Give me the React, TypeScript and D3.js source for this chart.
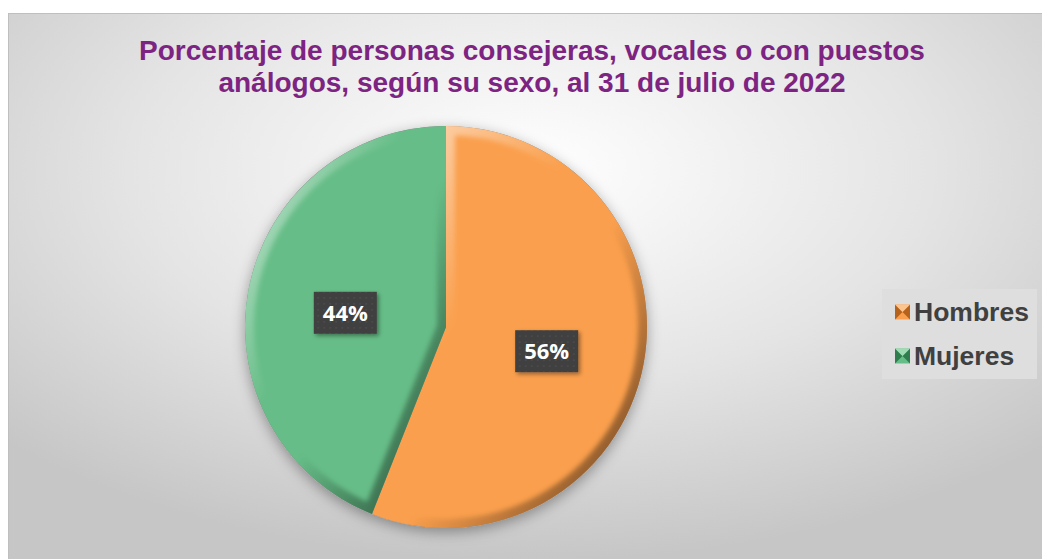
import { useMemo } from 'react'
import * as d3 from 'd3'

const categories = ['Hombres', 'Mujeres']
const values = [56, 44]
const sliceColors = ['#fa9f4d', '#66bd87']
const markerDark = ['#b4621c', '#2f7d4d']
const markerLight = ['#fcc48f', '#9fdcb4']
const titleLines = [
  'Porcentaje de personas consejeras, vocales o con puestos',
  'análogos, según su sexo, al 31 de julio de 2022',
]

const W = 1042
const H = 559

const App = () => {
  const cx = 446
  const cy = 327
  const r = 201

  const arcs = useMemo(
    () =>
      d3
        .pie<number>()
        .sort(null)
        .startAngle(0)
        .endAngle(2 * Math.PI)(values),
    []
  )

  const arc = d3.arc<d3.PieArcDatum<number>>().innerRadius(0).outerRadius(r)
  const labelArc = d3
    .arc<d3.PieArcDatum<number>>()
    .innerRadius(0)
    .outerRadius(r * 1.02)

  const total = d3.sum(values)

  return (
    <svg
      width={W}
      height={H}
      viewBox={`0 0 ${W} ${H}`}
      style={{ position: 'fixed', left: 0, top: 0, background: '#fff' }}
    >
      <defs>
        <radialGradient id="bg" cx="50%" cy="28%" r="70%">
          <stop offset="0" stopColor="#ffffff" />
          <stop offset="0.55" stopColor="#e4e4e4" />
          <stop offset="1" stopColor="#c6c6c6" />
        </radialGradient>
        <linearGradient id="bevel" x1="0" y1="0" x2="1" y2="1">
          <stop offset="0" stopColor="#ffffff" stopOpacity="0.7" />
          <stop offset="0.4" stopColor="#ffffff" stopOpacity="0" />
          <stop offset="0.56" stopColor="#000000" stopOpacity="0" />
          <stop offset="1" stopColor="#000000" stopOpacity="0.65" />
        </linearGradient>
        <filter id="soft" x="-10%" y="-10%" width="120%" height="120%">
          <feGaussianBlur stdDeviation="2.5" />
        </filter>
        <filter id="pieShadow" x="-20%" y="-20%" width="140%" height="140%">
          <feDropShadow dx="0" dy="4" stdDeviation="7" floodColor="#000" floodOpacity="0.35" />
        </filter>
        <filter id="boxShadow" x="-30%" y="-30%" width="160%" height="160%">
          <feDropShadow dx="2" dy="2" stdDeviation="2" floodColor="#000" floodOpacity="0.4" />
        </filter>
        <pattern id="dots" width="6" height="6" patternUnits="userSpaceOnUse">
          <rect width="6" height="6" fill="#3f3f3f" />
          <circle cx="3" cy="3" r="1" fill="#4c4c4c" />
        </pattern>
        {arcs.map((a, i) => (
          <clipPath key={i} id={`clip${i}`}>
            <path d={arc(a) ?? ''} transform={`translate(${cx},${cy})`} />
          </clipPath>
        ))}
      </defs>

      <rect x={8.5} y={13.5} width={W} height={H} fill="url(#bg)" stroke="#bfbfbf" />

      <g
        fontFamily="'Liberation Sans', Arial, sans-serif"
        fontWeight="bold"
        fontSize={28}
        fill="#7d2482"
        textAnchor="middle"
      >
        {titleLines.map((t, i) => (
          <text key={i} x={532} y={60 + i * 32}>
            {t}
          </text>
        ))}
      </g>

      <g filter="url(#pieShadow)">
        <circle cx={cx} cy={cy} r={r} fill="#888" />
      </g>

      {arcs.map((a, i) => (
        <g key={i}>
          <path d={arc(a) ?? ''} transform={`translate(${cx},${cy})`} fill={sliceColors[i]} />
          <g clipPath={`url(#clip${i})`}>
            <path
              d={arc(a) ?? ''}
              transform={`translate(${cx},${cy})`}
              fill="none"
              stroke="url(#bevel)"
              strokeWidth={18}
              strokeLinejoin="round"
              filter="url(#soft)"
            />
          </g>
        </g>
      ))}

      {arcs.map((a, i) => {
        const [lx, ly] = labelArc.centroid(a)
        const bw = 63
        const bh = 42
        const pct = `${Math.round((a.data / total) * 100)}%`
        return (
          <g key={i} transform={`translate(${cx + lx},${cy + ly + 5})`}>
            <rect
              x={-bw / 2}
              y={-bh / 2}
              width={bw}
              height={bh}
              fill="url(#dots)"
              filter="url(#boxShadow)"
            />
            <text
              textAnchor="middle"
              dy="0.36em"
              fill="#ffffff"
              fontFamily="'Open Sans', sans-serif"
              fontWeight="bold"
              fontSize={22}
            >
              {pct}
            </text>
          </g>
        )
      })}

      <rect x={882} y={289} width={155} height={90} fill="#dedede" />
      {categories.map((c, i) => {
        const y = 312 + i * 44
        const s = 15
        const x0 = 895
        const y0 = y - s / 2
        return (
          <g key={c}>
            <rect x={x0} y={y0} width={s} height={s} fill={sliceColors[i]} />
            <polygon
              points={`${x0},${y0} ${x0 + s / 2},${y} ${x0},${y0 + s}`}
              fill={markerDark[i]}
            />
            <polygon
              points={`${x0 + s},${y0} ${x0 + s / 2},${y} ${x0 + s},${y0 + s}`}
              fill={markerDark[i]}
            />
            <polygon
              points={`${x0},${y0} ${x0 + s},${y0} ${x0 + s / 2},${y}`}
              fill={markerLight[i]}
            />
            <text
              x={914}
              y={y + 9}
              fontFamily="'Liberation Sans', Arial, sans-serif"
              fontWeight="bold"
              fontSize={26.5}
              fill="#404040"
            >
              {c}
            </text>
          </g>
        )
      })}
    </svg>
  )
}

export default App
